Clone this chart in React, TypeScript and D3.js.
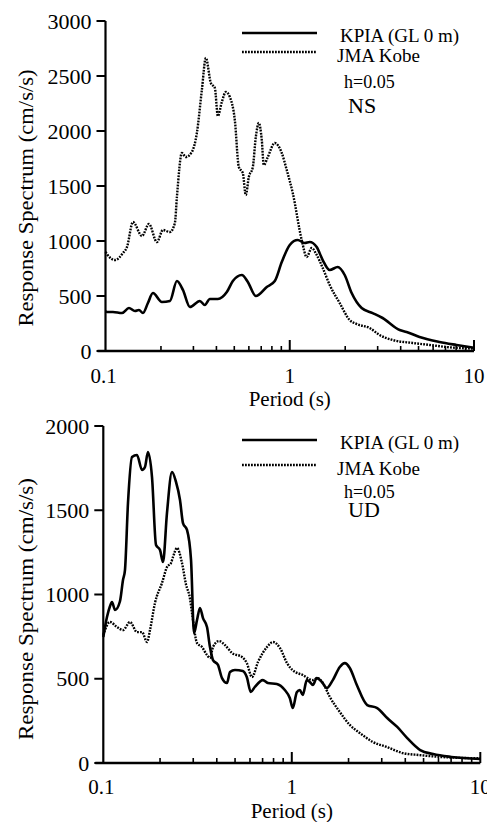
import React from "react";
import * as d3 from "d3";

// ---------- Data ----------
// NS component
const nsKpiaPeriod = [0.1, 0.1019, 0.1098, 0.1228, 0.1341, 0.1445, 0.1519, 0.1597, 0.1699, 0.1809, 0.2024, 0.2237, 0.2441, 0.2631, 0.2871, 0.3252, 0.3461, 0.3685, 0.4072, 0.4555, 0.4911, 0.5494, 0.5923, 0.6544, 0.7505, 0.8294, 0.9051, 1.0, 1.1049, 1.2058, 1.2834, 1.4004, 1.5098, 1.6477, 1.8205, 1.9871, 2.1677, 2.4557, 2.8181, 3.1915, 3.9478, 4.3062, 5.065, 6.5013, 8.0352, 10];
const nsKpiaValue = [360, 355, 355, 345, 391, 364, 373, 345, 436, 527, 445, 455, 636, 555, 400, 455, 418, 473, 473, 536, 636, 691, 627, 500, 582, 636, 809, 964, 1009, 982, 991, 945, 827, 736, 764, 691, 527, 391, 345, 300, 191, 173, 127, 82, 55, 30];

const nsJmaPeriod = [0.1, 0.1019, 0.1126, 0.1244, 0.1308, 0.141, 0.1577, 0.1721, 0.1901, 0.205, 0.2237, 0.238, 0.2441, 0.2598, 0.2731, 0.2944, 0.3133, 0.3334, 0.3505, 0.3731, 0.3922, 0.4072, 0.428, 0.4499, 0.4729, 0.5033, 0.5291, 0.5563, 0.5773, 0.5997, 0.6304, 0.6544, 0.6792, 0.7051, 0.7229, 0.76, 0.8294, 0.9051, 0.9632, 1.0382, 1.1614, 1.2363, 1.3157, 1.4004, 1.5098, 1.6477, 1.8664, 2.1141, 2.3077, 2.7143, 3.0746, 3.6166, 4.6416, 5.741, 7.095, 10];
const nsJmaValue = [900, 880, 827, 890, 945, 1173, 1045, 1155, 990, 1100, 1082, 1164, 1400, 1800, 1764, 1810, 1982, 2373, 2664, 2436, 2391, 2136, 2264, 2355, 2309, 2100, 1673, 1618, 1418, 1582, 1673, 1945, 2073, 1918, 1691, 1764, 1891, 1800, 1645, 1436, 1009, 855, 936, 873, 755, 600, 436, 282, 245, 209, 145, 100, 73, 55, 36, 22];

// UD component
const udKpiaPeriod = [0.1, 0.1046, 0.1085, 0.1112, 0.1154, 0.1226, 0.1272, 0.1303, 0.1352, 0.142, 0.1509, 0.1605, 0.1664, 0.1726, 0.1813, 0.1904, 0.1999, 0.2074, 0.2177, 0.2314, 0.243, 0.2552, 0.2647, 0.278, 0.292, 0.3029, 0.3142, 0.3258, 0.338, 0.3549, 0.3681, 0.3819, 0.4058, 0.4263, 0.4531, 0.47, 0.4996, 0.5497, 0.577, 0.6059, 0.6363, 0.7019, 0.7459, 0.8326, 0.9182, 0.9759, 1.0123, 1.0629, 1.1025, 1.144, 1.2013, 1.2461, 1.2925, 1.3568, 1.4428, 1.5337, 1.6505, 1.7973, 1.9105, 2.031, 2.213, 2.5119, 2.8386, 3.207, 3.625, 4.096, 4.799, 5.625, 7.02, 10];
const udKpiaValue = [748, 866, 930, 955, 908, 960, 1086, 1145, 1543, 1816, 1828, 1739, 1757, 1846, 1697, 1294, 1264, 1193, 1484, 1727, 1668, 1561, 1424, 1383, 1205, 771, 849, 920, 860, 807, 688, 611, 582, 504, 475, 540, 552, 546, 510, 421, 451, 492, 475, 469, 433, 386, 326, 420, 433, 404, 492, 481, 463, 504, 481, 445, 492, 570, 593, 564, 463, 344, 326, 267, 214, 148, 77, 53, 36, 24];

const udJmaPeriod = [0.1, 0.1085, 0.1182, 0.1272, 0.1386, 0.1509, 0.1605, 0.1706, 0.1769, 0.188, 0.2048, 0.2177, 0.2287, 0.2344, 0.246, 0.2615, 0.2746, 0.2884, 0.2955, 0.3142, 0.3339, 0.3549, 0.3681, 0.3819, 0.411, 0.4421, 0.4817, 0.5443, 0.577, 0.615, 0.6616, 0.7387, 0.795, 0.866, 0.943, 1.0123, 1.144, 1.2925, 1.374, 1.4605, 1.591, 1.7973, 2.031, 2.295, 2.69, 3.1915, 3.881, 4.776, 6.098, 10];
const udJmaValue = [760, 837, 807, 789, 837, 777, 777, 718, 789, 950, 1068, 1163, 1187, 1223, 1276, 1187, 1060, 975, 890, 712, 688, 641, 623, 688, 724, 700, 653, 629, 593, 510, 599, 688, 718, 682, 593, 550, 522, 492, 504, 475, 392, 303, 226, 178, 125, 95, 59, 47, 36, 28];

const xTickLabels = ["0.1", "1", "10"];
const xTickValues = [0.1, 1, 10];
const nsYTicks = [0, 500, 1000, 1500, 2000, 2500, 3000];
const udYTicks = [0, 500, 1000, 1500, 2000];
const seriesNames = ["KPIA (GL 0 m)", "JMA Kobe"];

const FONT = "'Liberation Serif', 'Times New Roman', serif";

type PanelProps = {
  xRange: [number, number];
  yRange: [number, number];
  yMax: number;
  yTicks: number[];
  kpia: { p: number[]; v: number[] };
  jma: { p: number[]; v: number[] };
  legendY: [number, number, number, number];
  comp: string;
  tickBaseline: number;
  labelBaseline: number;
  yLabelCenter: number;
  yLabelLength: number;
};

function Panel(props: PanelProps) {
  const { xRange, yRange, yMax, yTicks, kpia, jma, legendY, comp } = props;
  const x = d3.scaleLog().domain([0.1, 10]).range(xRange);
  const y = d3.scaleLinear().domain([0, yMax]).range(yRange);
  const line = d3
    .line<[number, number]>()
    .x((d) => x(d[0]))
    .y((d) => y(d[1]))
    .curve(d3.curveMonotoneX);
  const kp = line(kpia.p.map((p, i) => [p, kpia.v[i]] as [number, number])) || "";
  const jp = line(jma.p.map((p, i) => [p, jma.v[i]] as [number, number])) || "";
  const minor: number[] = [];
  for (let k = 2; k <= 9; k++) minor.push(k * 0.1);
  for (let k = 2; k <= 9; k++) minor.push(k);
  const x0 = xRange[0];
  const yb = yRange[0];
  const midX = x(1);
  return (
    <g>
      {/* data */}
      <path d={jp} fill="none" stroke="#000" strokeWidth={2.4} strokeDasharray="1.8,1.2" />
      <path d={kp} fill="none" stroke="#000" strokeWidth={2.6} strokeLinejoin="round" />
      {/* axes */}
      <line x1={x0} x2={x0} y1={y(yMax)} y2={yb} stroke="#000" strokeWidth={2.2} />
      <line x1={x0 - 8} x2={xRange[1]} y1={yb} y2={yb} stroke="#000" strokeWidth={2.4} />
      {yTicks.map((t) => (
        <g key={"yt" + t}>
          <line x1={x0 - 9} x2={x0} y1={y(t)} y2={y(t)} stroke="#000" strokeWidth={2} />
          <text x={x0 - 14} y={y(t)} dy="0.35em" textAnchor="end" fontSize={22} fontFamily={FONT}>
            {t}
          </text>
        </g>
      ))}
      {minor.map((m) => (
        <line key={"mn" + m} x1={x(m)} x2={x(m)} y1={yb} y2={yb - 5} stroke="#000" strokeWidth={1.6} />
      ))}
      {[1, 10].map((m) => (
        <line key={"mj" + m} x1={x(m)} x2={x(m)} y1={yb} y2={yb - 11} stroke="#000" strokeWidth={2} />
      ))}
      {xTickValues.map((t, i) => (
        <text key={"xt" + t} x={x(t) - (i === 0 ? 2 : 0)} y={props.tickBaseline} textAnchor="middle" fontSize={21} fontFamily={FONT}>
          {xTickLabels[i]}
        </text>
      ))}
      <text x={midX} y={props.labelBaseline} textAnchor="middle" fontSize={21} fontFamily={FONT}>
        Period (s)
      </text>
      <text
        transform={`translate(33,${props.yLabelCenter}) rotate(-90)`}
        textAnchor="middle"
        fontSize={22}
        fontFamily={FONT}
        textLength={props.yLabelLength}
        lengthAdjust="spacingAndGlyphs"
      >
        Response Spectrum (cm/s/s)
      </text>
      {/* legend */}
      <line x1={242} x2={317} y1={legendY[0] - 9} y2={legendY[0] - 9} stroke="#000" strokeWidth={2.6} />
      <line x1={242} x2={317} y1={legendY[1] - 10} y2={legendY[1] - 10} stroke="#000" strokeWidth={2.4} strokeDasharray="1.8,1.2" />
      <text x={340} y={legendY[0]} fontSize={19} fontFamily={FONT}>{seriesNames[0]}</text>
      <text x={337} y={legendY[1]} fontSize={19} fontFamily={FONT}>{seriesNames[1]}</text>
      <text x={344} y={legendY[2]} fontSize={18} fontFamily={FONT}>h=0.05</text>
      <text x={348} y={legendY[3]} fontSize={22} fontFamily={FONT}>{comp}</text>
    </g>
  );
}

export default function App() {
  return (
    <svg
      width={487}
      height={822}
      viewBox="0 0 487 822"
      style={{ position: "absolute", left: 0, top: 0, background: "#fff" }}
    >
      <rect x={0} y={0} width={487} height={822} fill="#fff" />
      <Panel
        xRange={[105.5, 474]}
        yRange={[351, 21]}
        yMax={3000}
        yTicks={nsYTicks}
        kpia={{ p: nsKpiaPeriod, v: nsKpiaValue }}
        jma={{ p: nsJmaPeriod, v: nsJmaValue }}
        legendY={[42, 62, 88, 113]}
        comp="NS"
        tickBaseline={383}
        labelBaseline={406}
        yLabelCenter={198}
        yLabelLength={257}
      />
      <Panel
        xRange={[103.3, 480.3]}
        yRange={[763, 426]}
        yMax={2000}
        yTicks={udYTicks}
        kpia={{ p: udKpiaPeriod, v: udKpiaValue }}
        jma={{ p: udJmaPeriod, v: udJmaValue }}
        legendY={[449, 475, 498, 517]}
        comp="UD"
        tickBaseline={794}
        labelBaseline={818}
        yLabelCenter={609}
        yLabelLength={262}
      />
    </svg>
  );
}
